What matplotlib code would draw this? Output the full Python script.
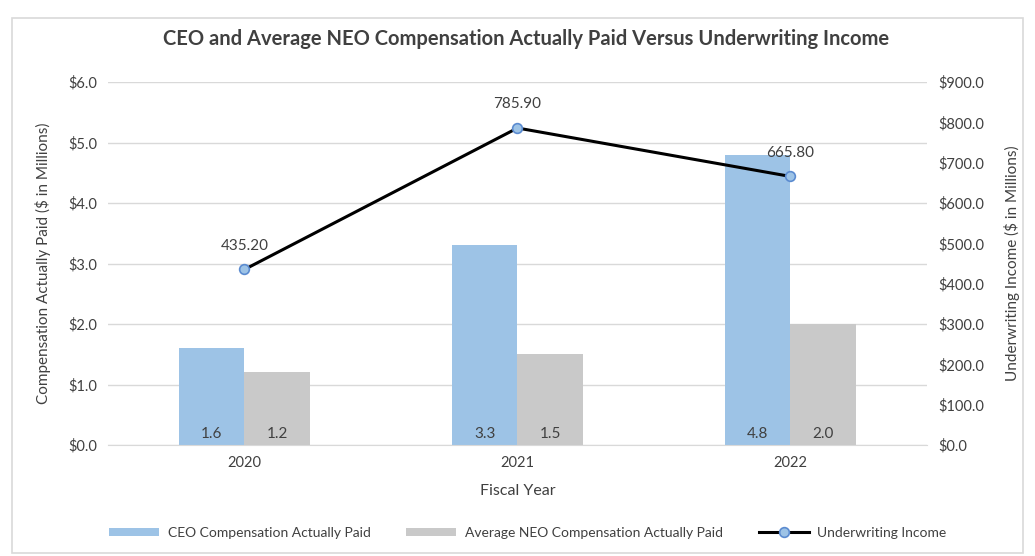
import matplotlib
matplotlib.use('Agg')
import matplotlib.pyplot as plt
from matplotlib.patches import Rectangle
from matplotlib.ticker import FuncFormatter

years = ['2020', '2021', '2022']
ceo_paid = [1.6, 3.3, 4.8]
neo_paid = [1.2, 1.5, 2.0]
uw_income = [435.20, 785.90, 665.80]

BLUE = '#9DC3E6'
GRAY = '#C9C9C9'
TEXT = '#404040'
GRID = '#D9D9D9'

plt.rcParams['font.family'] = ['Lato', 'DejaVu Sans']

fig = plt.figure(figsize=(10.35, 5.56), dpi=100)
fig.patches.append(Rectangle((0.012, 0.005), 0.976, 0.962, transform=fig.transFigure,
                             fill=False, edgecolor='#D9D9D9', linewidth=1.2))

ax = fig.add_axes([108 / 1035, 1 - 445 / 556, (927 - 108) / 1035, (445 - 82) / 556])
ax2 = ax.twinx()

x = list(range(len(years)))
w = 0.24
b1 = ax.bar([i - w / 2 for i in x], ceo_paid, w, color=BLUE, label='CEO Compensation Actually Paid', zorder=2)
b2 = ax.bar([i + w / 2 for i in x], neo_paid, w, color=GRAY, label='Average NEO Compensation Actually Paid', zorder=2)
for bars, vals in ((b1, ceo_paid), (b2, neo_paid)):
    for r, v in zip(bars, vals):
        ax.text(r.get_x() + r.get_width() / 2, 0.18, f'{v:.1f}', ha='center', va='center',
                fontsize=11, color=TEXT, zorder=3)

ax.set_xlim(-0.5, 2.5)
ax.set_ylim(0, 6)
ax.set_yticks([0, 1, 2, 3, 4, 5, 6])
ax.yaxis.set_major_formatter(FuncFormatter(lambda v, p: f'${v:.1f}'))
ax.set_xticks(x)
ax.set_xticklabels(years)
ax.grid(axis='y', color=GRID, linewidth=1, zorder=0)
ax.set_axisbelow(True)

ln, = ax2.plot(x, uw_income, color='black', linewidth=2.2, marker='o', markersize=7,
               markerfacecolor=BLUE, markeredgecolor='#5B8BD0', markeredgewidth=1.2,
               label='Underwriting Income', zorder=4)
for i, v in zip(x, uw_income):
    ax2.annotate(f'{v:.2f}', (i, v), xytext=(0, 12), textcoords='offset points',
                 ha='center', va='bottom', fontsize=11, color=TEXT)
ax2.set_ylim(0, 900)
ax2.set_yticks(range(0, 901, 100))
ax2.yaxis.set_major_formatter(FuncFormatter(lambda v, p: f'${v:.1f}'))

for a in (ax, ax2):
    for s in a.spines.values():
        s.set_visible(False)
    a.tick_params(length=0, labelsize=10.5, labelcolor=TEXT, pad=8)
ax.spines['bottom'].set_visible(True)
ax.spines['bottom'].set_color(GRID)

ax.set_xlabel('Fiscal Year', fontsize=11.5, color=TEXT, labelpad=10)
ax.set_ylabel('Compensation Actually Paid ($ in Millions)', fontsize=11, color=TEXT, labelpad=12)
ax2.set_ylabel('Underwriting Income ($ in Millions)', fontsize=11, color=TEXT, labelpad=14)

fig.suptitle('CEO and Average NEO Compensation Actually Paid Versus Underwriting Income',
             x=0.508, y=0.948, fontsize=14.5, fontweight='bold', color=TEXT)

fig.legend(handles=[b1, b2, ln], loc='center', bbox_to_anchor=(0.51, 1 - 533 / 556), ncol=3,
           frameon=False, fontsize=10, labelcolor=TEXT, handlelength=3.6, handleheight=0.55,
           handletextpad=0.6, columnspacing=2.6)

fig.savefig('out.png', dpi=100)
